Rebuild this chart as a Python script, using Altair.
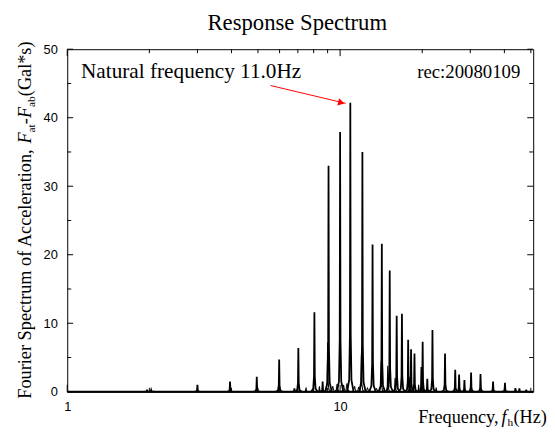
import altair as alt
import pandas as pd

# ---- data ----
# main spectrum peaks (frequency Hz, amplitude Gal*s)
PEAK_F = [1.96, 2.03, 3.0, 3.95, 4.95, 5.98, 6.8, 7.03, 8.05, 8.63, 9.07, 10.0, 10.9,
          12.07, 13.15, 14.22, 15.2, 16.12, 16.85, 17.76, 18.2, 18.73, 19.86, 20.07,
          20.87, 21.8, 24.24, 26.42, 27.3, 28.55, 30.2, 32.7, 36.35, 40.2, 43.9, 45.4, 48.1]
PEAK_V = [0.3, 0.25, 1.0, 1.5, 2.2, 4.7, 0.5, 6.4, 11.6, 1.5, 33.0, 37.9, 42.2,
          35.0, 21.5, 21.6, 17.7, 11.1, 11.4, 7.6, 6.2, 5.6, 3.6, 7.3,
          1.9, 9.0, 5.6, 3.2, 2.5, 1.7, 2.8, 2.6, 1.5, 1.3, 0.55, 0.5, 0.3]
# overlaid secondary spectrum peaks
SUB_F = [7.5, 8.4, 9.0, 11.97, 14.14, 14.95, 15.9, 18.0, 19.4, 22.5]
SUB_V = [0.6, 0.8, 7.2, 5.4, 4.5, 3.8, 2.0, 2.2, 1.0, 0.6]
# broad low humps near the base
LOOP_F = [9.4, 9.75, 10.3, 10.6, 11.3, 11.7, 12.6, 13.6]
LOOP_V = [0.8, 1.1, 1.0, 1.2, 0.8, 0.7, 0.6, 0.5]

Y_MAJOR = [0, 10, 20, 30, 40, 50]
Y_MINOR = [5, 15, 25, 35, 45]
X_MAJOR = [1, 10]
X_MINOR = [2, 3, 4, 5, 6, 7, 8, 9, 20, 30, 40, 50]

ARROW_F = [5.56, 10.48]
ARROW_V = [44.7, 42.1]
HEAD_F = [10.1]
HEAD_V = [42.2]

# ---- peak outline (style) ----
SHAPE_OFF = [-1, -0.35, -0.12, 0, 0.12, 0.35, 1]
SHAPE_FRAC = [0, 0.04, 0.2, 1, 0.2, 0.04, 0]

rows = []
def add(series, fs, vs, halfw, sw):
    for i, (f, v) in enumerate(zip(fs, vs)):
        for o, fr in zip(SHAPE_OFF, SHAPE_FRAC):
            rows.append({"f": f * 10 ** (o * halfw), "v": v * fr,
                         "id": f"{series}{i}", "w": sw})

add("m", PEAK_F, PEAK_V, 0.012, 1.8)
add("s", SUB_F, SUB_V, 0.014, 1.1)
add("l", LOOP_F, LOOP_V, 0.03, 1.0)
df = pd.DataFrame(rows)

W, H = 472, 347
xs = alt.Scale(type="log", domain=[1, 51], nice=False)
ys = alt.Scale(domain=[0, 50], nice=False)
xa = alt.Axis(values=X_MAJOR, format="~g", labelFont="Liberation Sans", labelFontSize=13,
              labelColor="black", ticks=False, tickSize=0, domain=False, grid=False,
              title=None, labelPadding=9, labelFlush=False)
ya = alt.Axis(values=Y_MAJOR, labelFont="Liberation Sans", labelFontSize=13,
              labelColor="black", ticks=False, tickSize=0, domain=False, grid=False,
              title=None, labelPadding=10)
X = lambda: alt.X("f:Q", scale=xs, axis=xa)
Y = lambda: alt.Y("v:Q", scale=ys, axis=ya)

lines = alt.Chart(df).mark_line(color="black", clip=True).encode(
    x=X(), y=Y(), detail="id:N", strokeWidth=alt.StrokeWidth("w:Q", scale=None))

base0 = alt.Chart(pd.DataFrame({"v": [0]})).mark_rule(color="black", strokeWidth=2).encode(
    y=Y(), x=alt.value(0), x2=alt.value(W))

ymaj = pd.DataFrame({"v": Y_MAJOR})
ymin = pd.DataFrame({"v": Y_MINOR})
xmaj = pd.DataFrame({"f": X_MAJOR})
xmin = pd.DataFrame({"f": X_MINOR})

def yt(d, L):
    return [alt.Chart(d).mark_rule(color="black").encode(y=Y(), x=alt.value(0), x2=alt.value(L)),
            alt.Chart(d).mark_rule(color="black").encode(y=Y(), x=alt.value(W - L), x2=alt.value(W))]
def xt(d, L):
    return [alt.Chart(d).mark_rule(color="black").encode(x=X(), y=alt.value(H), y2=alt.value(H - L)),
            alt.Chart(d).mark_rule(color="black").encode(x=X(), y=alt.value(0), y2=alt.value(L))]

ticks = yt(ymaj, 6) + yt(ymin, 4) + xt(xmaj, 7) + xt(xmin, 4)

arrow = alt.Chart(pd.DataFrame({"f": ARROW_F, "v": ARROW_V})).mark_line(
    color="red", strokeWidth=1).encode(x=X(), y=Y())
head = alt.Chart(pd.DataFrame({"f": HEAD_F, "v": HEAD_V})).mark_point(
    shape="triangle-right", filled=True, color="red", size=55, angle=14, opacity=1).encode(x=X(), y=Y())

one = pd.DataFrame({"a": [0]})
def txt(t, x, y, size, font="Liberation Serif", style="normal", align="left", angle=0, color="black"):
    return alt.Chart(one).mark_text(text=t, font=font, fontSize=size, fontStyle=style,
                                    align=align, baseline="alphabetic", angle=angle,
                                    color=color).encode(x=alt.value(x), y=alt.value(y))

texts = [
    txt("Response Spectrum", 233, -19, 23, align="center"),
    txt("Natural frequency 11.0Hz", 14, 29.5, 21.5),
    txt("rec:20080109", 459, 29, 19, align="right"),
    # y title
    txt("Fourier Spectrum of Acceleration,", -37, 354, 18.5, angle=270),
    txt("F", -37, 95.6, 18.5, style="italic", angle=270),
    txt("at", -33, 84.3, 11.5, angle=270),
    txt("-", -37, 76, 18.5, angle=270),
    txt("F", -37, 69.8, 18.5, style="italic", angle=270),
    txt("ab", -33, 58.5, 11.5, angle=270),
    txt("(Gal*s)", -37, 47.6, 18.5, angle=270),
    # x title
    txt("Frequency,", 437, 379, 18.5, align="right"),
    txt("f", 440, 379, 18.5, style="italic"),
    txt("h", 446, 382, 11.5),
    txt("(Hz)", 452, 379, 18.5),
]

chart = alt.layer(lines, base0, *ticks, arrow, head, *texts).properties(
    width=W, height=H,
    padding={"left": 60, "top": 39, "right": 14, "bottom": 37},
    autosize=alt.AutoSizeParams(type="none"),
    background="white",
).configure_view(stroke="black", strokeWidth=1)

chart.save("out.html", embed_options={"renderer": "svg", "actions": False})
